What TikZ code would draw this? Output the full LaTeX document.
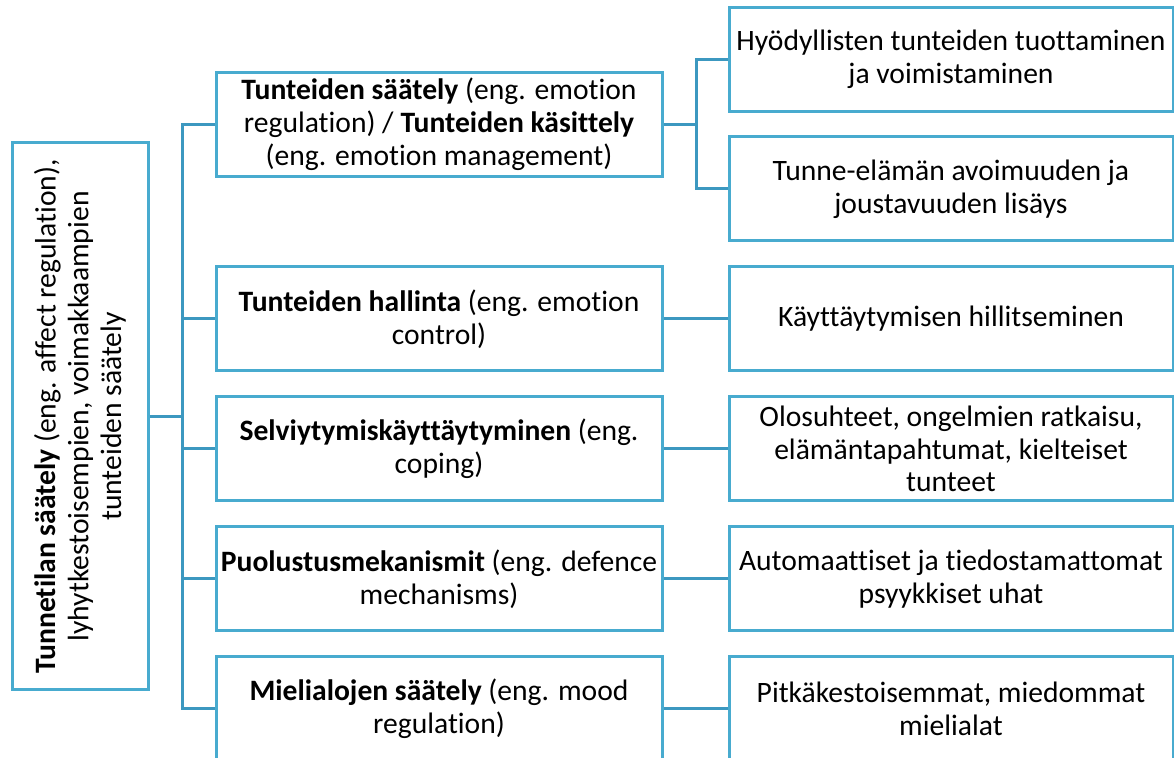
\documentclass[tikz,border=0pt]{standalone}
\usepackage{fontspec}
\setmainfont{Carlito}[Ligatures=NoCommon]
\definecolor{boxblue}{RGB}{72,171,207}
\definecolor{linkblue}{RGB}{60,152,192}
\begin{document}
\begin{tikzpicture}[x=0.5pt,y=-0.5pt,
box/.style={draw=boxblue, line width=1.5pt, align=center, inner sep=2pt, font=\fontsize{14.8}{16.4}\selectfont},
midbox/.style={box, minimum width=223pt, minimum height=52pt},
rbox/.style={box, minimum width=222pt, minimum height=52pt},
link/.style={linkblue, line width=1.5pt}]
\clip (0,0) rectangle (1174,758);
\node[box, rotate=90, minimum width=273.5pt, minimum height=68pt] (tila) at (80,416.5) {\textbf{Tunnetilan säätely} (eng. affect regulation),\\lyhytkestoisempien, voimakkaampien\\tunteiden säätely};
\node[midbox] (m1) at (439,124.5) {\textbf{Tunteiden säätely} (eng. emotion\\regulation) / \textbf{Tunteiden käsittely}\\(eng. emotion management)};
\node[midbox] (m2) at (439,319) {\textbf{Tunteiden hallinta} (eng. emotion\\control)};
\node[midbox] (m3) at (439,449) {\textbf{Selviytymiskäyttäytyminen} (eng.\\coping)};
\node[midbox] (m4) at (439,579) {\textbf{Puolustusmekanismit} (eng. defence\\mechanisms)};
\node[midbox] (m5) at (439,708.5) {\textbf{Mielialojen säätely} (eng. mood\\regulation)};
\node[rbox] (r1a) at (951,59.5) {Hyödyllisten tunteiden tuottaminen\\ja voimistaminen};
\node[rbox] (r1b) at (951,189) {Tunne-elämän avoimuuden ja\\joustavuuden lisäys};
\node[rbox] (r2) at (951,319) {Käyttäytymisen hillitseminen};
\node[rbox] (r3) at (951,449) {Olosuhteet, ongelmien ratkaisu,\\elämäntapahtumat, kielteiset\\tunteet};
\node[rbox] (r4) at (951,579) {Automaattiset ja tiedostamattomat\\psyykkiset uhat};
\node[rbox] (r5) at (951,708.5) {Pitkäkestoisemmat, miedommat\\mielialat};
\coordinate (trunk) at (182,0);
\coordinate (fork) at (696,0);
\draw[link] (m1.west) -- (m1.west -| trunk) -- (m5.west -| trunk) -- (m5.west);
\foreach \i in {2,3,4}
{
\draw[link] (m\i.west) -- (m\i.west -| trunk);
}
\draw[link] (tila.south) -- (tila.south -| trunk);
\draw[link] (m1.east) -- (m1.east -| fork);
\draw[link] (r1a.west) -- (r1a.west -| fork) -- (r1b.west -| fork) -- (r1b.west);
\foreach \i in {2,...,5}
{
\draw[link] (m\i.east) -- (r\i.west);
}
\end{tikzpicture}
\end{document}
